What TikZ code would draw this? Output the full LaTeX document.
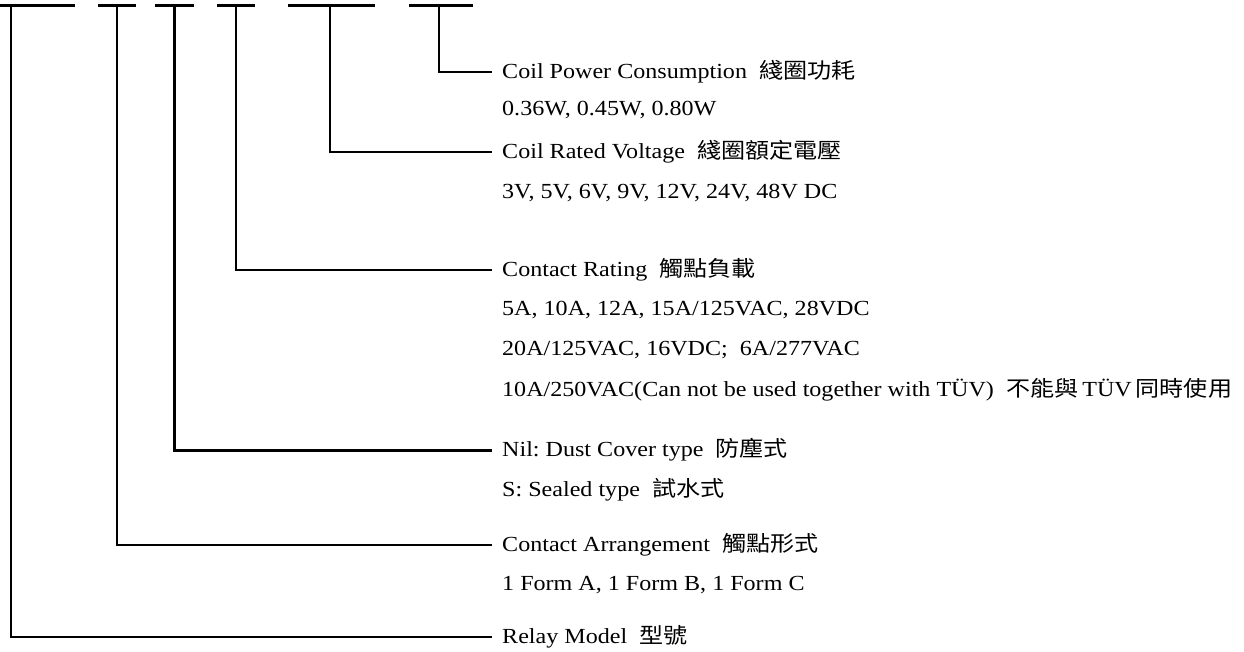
\documentclass[tikz,border=0pt]{standalone}
\usepackage{fontspec}
\setmainfont{Liberation Serif}
\newfontfamily\cjk{Noto Sans CJK TC}
\newcommand\wtxt[1]{\scalebox{1.12}[1]{#1}}
\frenchspacing
\begin{document}
\begin{tikzpicture}[x=1pt,y=-1pt,
  bar/.style={line width=3pt},
  conn/.style={line width=2.2pt},
  lbl/.style={anchor=west,inner sep=0pt,font=\fontsize{21.5}{24}\selectfont}]
\useasboundingbox (0,0) rectangle (1244,652);
% top bars
\draw[bar] (0,6) -- (75,6);
\draw[bar] (98,6) -- (136,6);
\draw[bar] (155,6) -- (194,6);
\draw[bar] (217,6) -- (255,6);
\draw[bar] (288,6) -- (375,6);
\draw[bar] (409,6) -- (473,6);
\coordinate (t1) at (11,6);
\coordinate (t2) at (117,6);
\coordinate (t3) at (174,6);
\coordinate (t4) at (236,6);
\coordinate (t5) at (330,6);
\coordinate (t6) at (439,6);
% labels
\node[lbl] (pc) at (502,72) {\wtxt{Coil Power Consumption\ \ {\cjk 綫圈功耗}}};
\node[lbl] (pc2) at (502,110) {\wtxt{0.36W, 0.45W, 0.80W}};
\node[lbl] (rv) at (502,152) {\wtxt{Coil Rated Voltage\ \ {\cjk 綫圈額定電壓}}};
\node[lbl] (rv2) at (502,193) {\wtxt{3V, 5V, 6V, 9V, 12V, 24V, 48V DC}};
\node[lbl] (cr) at (502,270) {\wtxt{Contact Rating\ \ {\cjk 觸點負載}}};
\node[lbl] (cr2) at (502,310) {\wtxt{5A, 10A, 12A, 15A/125VAC, 28VDC}};
\node[lbl] (cr3) at (502,350) {\wtxt{20A/125VAC, 16VDC;\ \ 6A/277VAC}};
\node[lbl] (cr4) at (502,390) {\wtxt{10A/250VAC(Can not be used together with TÜV)\ \ {\cjk 不能與}\,TÜV\,{\cjk 同時使用}}};
\node[lbl] (dc) at (502,450) {\wtxt{Nil: Dust Cover type\ \ {\cjk 防塵式}}};
\node[lbl] (dc2) at (502,490) {\wtxt{S: Sealed type\ \ {\cjk 試水式}}};
\node[lbl] (ca) at (502,545) {\wtxt{Contact Arrangement\ \ {\cjk 觸點形式}}};
\node[lbl] (ca2) at (502,585) {\wtxt{1 Form A, 1 Form B, 1 Form C}};
\node[lbl] (rm) at (502,637) {\wtxt{Relay Model\ \ {\cjk 型號}}};
% connectors
\draw[conn] (t6) |- ([xshift=-10pt]pc.west);
\draw[conn] (t5) |- ([xshift=-10pt]rv.west);
\draw[conn] (t4) |- ([xshift=-10pt]cr.west);
\draw[conn,line width=3pt] (t3) |- ([xshift=-10pt]dc.west);
\draw[conn] (t2) |- ([xshift=-10pt]ca.west);
\draw[conn] (t1) |- ([xshift=-10pt]rm.west);
\end{tikzpicture}
\end{document}
